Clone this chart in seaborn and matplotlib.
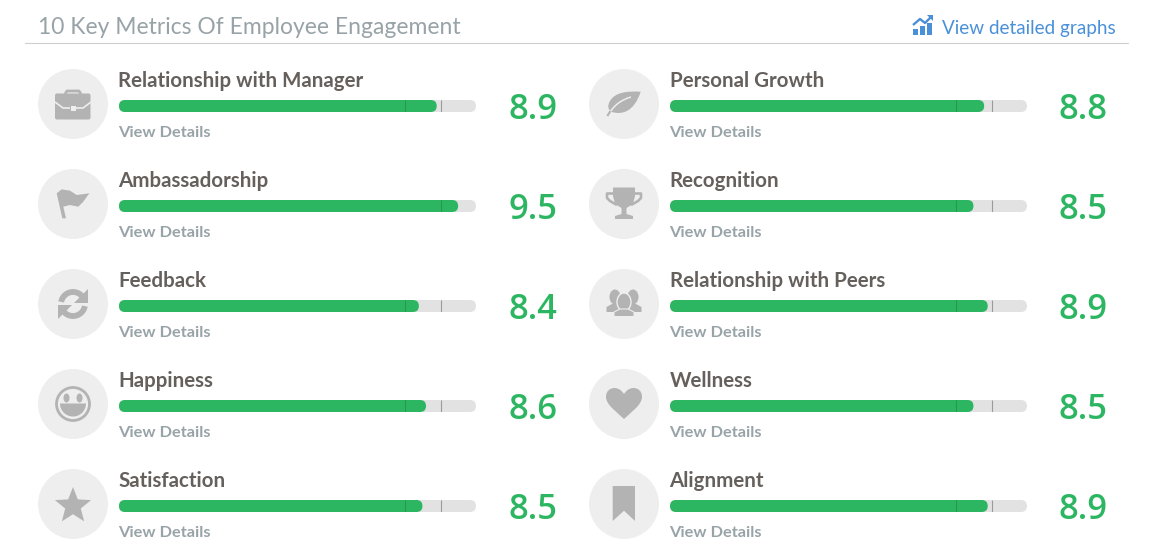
import numpy as np
import matplotlib
matplotlib.use("Agg")
import matplotlib.pyplot as plt
import seaborn as sns
from matplotlib.path import Path
from matplotlib.patches import Circle, Ellipse, FancyBboxPatch, PathPatch, Polygon, Rectangle, Wedge

# data
LEFT_NAMES = ["Relationship with Manager", "Ambassadorship", "Feedback", "Happiness", "Satisfaction"]
LEFT_VALUES = [8.9, 9.5, 8.4, 8.6, 8.5]
RIGHT_NAMES = ["Personal Growth", "Recognition", "Relationship with Peers", "Wellness", "Alignment"]
RIGHT_VALUES = [8.8, 8.5, 8.9, 8.5, 8.9]
LEFT_LOW_MARKS = [8.02, np.nan, 8.02, 8.02, 8.02]
RIGHT_LOW_MARKS = [8.02, 8.02, 8.02, 8.02, 8.02]
HIGH_MARK = 9.02
SCALE_MAX = 10
LEFT_ICONS = ["briefcase", "flag", "refresh", "smiley", "star"]
RIGHT_ICONS = ["leaf", "trophy", "people", "heart", "bookmark"]
TITLE = "10 Key Metrics Of Employee Engagement"
LINK = "View detailed graphs"
DETAILS = "View Details"

W, H = 1153, 559
GREEN = "#2DB662"
MARK_ON_GREEN = "#27964F"
MARK_ON_TRACK = "#9A9A9A"
TRACK = "#E2E2E2"
CIRCLE = "#EEEEEE"
ICON = "#B3B3B3"
NAME_COLOR = "#66605C"
MUTED = "#98A3A8"
BLUE = "#4A90D9"
FONT = "Lato"
NUM_FONT = "Open Sans"


def add_shape(ax, cx, cy, verts, codes=None, **kw):
    verts = np.asarray(verts, dtype=float) + [cx, cy]
    kw.setdefault("facecolor", ICON)
    kw.setdefault("edgecolor", "none")
    ax.add_patch(PathPatch(Path(verts, codes), **kw))


def stroke(ax, cx, cy, pts, color=ICON, lw=2.0, **kw):
    pts = np.asarray(pts, dtype=float)
    ax.plot(pts[:, 0] + cx, pts[:, 1] + cy, color=color, lw=lw, solid_capstyle="butt", **kw)


def draw_icon(ax, kind, cx, cy):
    C, M, Z = Path.CURVE4, Path.MOVETO, Path.CLOSEPOLY
    if kind == "briefcase":
        stroke(ax, cx, cy, [(-8, -10), (-6, -13), (6, -13), (8, -10)], lw=2.0)
        ax.add_patch(FancyBboxPatch((cx - 18, cy - 10.5), 35.5, 26, boxstyle="round,pad=0,rounding_size=2",
                                    fc=ICON, ec="none"))
        stroke(ax, cx, cy, [(-18, -2), (-10, 4), (-3, 4)], color=CIRCLE, lw=1.2)
        stroke(ax, cx, cy, [(3, 4), (10, 4), (18, -2)], color=CIRCLE, lw=1.2)
        ax.add_patch(Rectangle((cx - 2.5, cy + 1.5), 5, 5, fc=CIRCLE, ec="none"))
    elif kind == "flag":
        add_shape(ax, cx, cy, [(-16.3, -10.7), (-11.3, -14.7), (-3, -13.3), (3.7, -9), (16.3, -10.7), (10.3, -2.3),
                               (5.3, 2.7), (-3, 1), (-9.7, 2.7), (-7, 14.3), (-10.7, 14.3)])
    elif kind == "refresh":
        for sign in (1, -1):
            t = np.radians(np.linspace(190, 325, 30))
            pts = np.c_[12 * np.cos(t), 12 * np.sin(t)] * sign
            stroke(ax, cx, cy, pts, lw=4.2)
            add_shape(ax, cx, cy, np.array([(15.3, -15), (15.3, -1), (1, -1)]) * sign)
    elif kind == "smiley":
        ax.add_patch(Circle((cx, cy), 16.5, fc="none", ec=ICON, lw=2.0))
        ax.add_patch(Ellipse((cx - 6.5, cy - 6), 6, 9, fc=ICON, ec="none"))
        ax.add_patch(Ellipse((cx + 6.5, cy - 6), 6, 9, fc=ICON, ec="none"))
        ax.add_patch(Wedge((cx, cy - 0.5), 13, 0, 180, fc=ICON, ec="none"))
    elif kind == "star":
        star = Path.unit_regular_star(5, innerCircle=0.43)
        add_shape(ax, cx, cy + 2, star.vertices * [19, -19], star.codes)
    elif kind == "leaf":
        add_shape(ax, cx, cy,
                  [(16.7, -12.3), (4, -13), (-9, -12), (-14, -3), (-17, 2), (-16, 6), (-12, 8),
                   (-2, 11), (10, 8), (16.7, -12.3), (16.7, -12.3)],
                  [M, C, C, C, C, C, C, C, C, C, Z])
        verts = np.array([(-16.7, 12), (-10, 1), (-3, -4), (7, -7)], dtype=float) + [cx, cy]
        ax.add_patch(PathPatch(Path(verts, [M, C, C, C]), fc="none", ec=CIRCLE, lw=1.1))
        stroke(ax, cx, cy, [(-16.7, 12), (-13.5, 7)], lw=1.5)
    elif kind == "trophy":
        stroke(ax, cx, cy, [(-11, -10.5), (-17, -10.5), (-17, -6), (-14, -3), (-7, 1)], lw=1.9)
        stroke(ax, cx, cy, [(11, -10.5), (17, -10.5), (17, -6), (14, -3), (7, 1)], lw=1.9)
        add_shape(ax, cx, cy,
                  [(-11, -16.5), (11, -16.5), (11, -8), (9, 0), (2.5, 4), (2.5, 10), (9, 12), (9, 15), (-9, 15),
                   (-9, 12), (-2.5, 10), (-2.5, 4), (-9, 0), (-11, -8)])
    elif kind == "people":
        for sx in (-9, 9):
            ax.add_patch(Ellipse((cx + sx, cy - 7), 11, 15, fc=ICON, ec="none"))
            add_shape(ax, cx + sx, cy, [(-8.5, 8), (-8.5, 3), (-3, 0), (3, 0), (8.5, 3), (8.5, 8)])
        ax.add_patch(Ellipse((cx, cy - 2), 14, 18, fc=ICON, ec=CIRCLE, lw=1.0))
        add_shape(ax, cx, cy, [(-10, 12), (-10, 8), (-4, 5), (4, 5), (10, 8), (10, 12)],
                  edgecolor=CIRCLE, lw=0.8)
    elif kind == "heart":
        add_shape(ax, cx, cy,
                  [(0, 15), (-6, 9), (-18, 1), (-18, -7), (-18, -13), (-14, -16), (-9.5, -16), (-5, -16), (-2, -13),
                   (0, -10), (2, -13), (5, -16), (9.5, -16), (14, -16), (18, -13), (18, -7), (18, 1), (6, 9), (0, 15),
                   (0, 15)],
                  [M, C, C, C, C, C, C, C, C, C, C, C, C, C, C, C, C, C, C, Z])
    elif kind == "bookmark":
        add_shape(ax, cx, cy, [(-11.3, -18), (11, -18), (11, 17), (0, 6.7), (-11.3, 17)])


def draw_chart_icon(ax):
    for x0, top in [(913, 29), (920, 26), (927, 22.5)]:
        ax.add_patch(Rectangle((x0, top), 5, 35 - top, fc=BLUE, ec="none"))
    stroke(ax, 0, 0, [(913, 25), (920, 19), (925, 23), (931, 17)], color=BLUE, lw=1.7)
    ax.add_patch(Polygon([(927, 15), (933, 15), (933, 21)], fc=BLUE, ec="none"))


def draw_bar(fig, name, value, low_mark, x_px, y_px):
    ax = fig.add_axes([x_px / W, 1 - (y_px + 12) / H, 357 / W, 12 / H])
    sns.barplot(x=[SCALE_MAX], y=[name], orient="h", width=1, color=TRACK, saturation=1, ax=ax)
    sns.barplot(x=[value], y=[name], orient="h", width=1, color=GREEN, saturation=1, ax=ax)
    ax.set_xlim(0, SCALE_MAX)
    ax.set_ylim(0.5, -0.5)
    ax.axis("off")

    # swap the square bars for rounded ones of the same extent
    r = 6 / (357 / SCALE_MAX)
    for bar in list(ax.patches):
        rounded = FancyBboxPatch((bar.get_x(), bar.get_y()), bar.get_width(), bar.get_height(),
                                 boxstyle=f"round,pad=0,rounding_size={r}", mutation_aspect=(357 / SCALE_MAX) / 12,
                                 fc=bar.get_facecolor(), ec="none", zorder=bar.get_zorder())
        bar.remove()
        ax.add_patch(rounded)

    for mark in (low_mark, HIGH_MARK):
        if np.isnan(mark):
            continue
        color = MARK_ON_GREEN if mark < value else MARK_ON_TRACK
        ax.vlines(mark, -0.5, 0.5, color=color, lw=0.8, zorder=5)


def main():
    sns.set_theme(style="white")
    plt.rcParams["font.family"] = [FONT, "DejaVu Sans"]

    fig = plt.figure(figsize=(W / 100, H / 100), dpi=100, facecolor="white")
    canvas = fig.add_axes([0, 0, 1, 1])
    canvas.set_xlim(0, W)
    canvas.set_ylim(H, 0)
    canvas.axis("off")

    canvas.text(38, 34, TITLE, fontsize=16.5, color=MUTED, va="baseline")
    canvas.text(942, 34, LINK, fontsize=13.6, color=BLUE, va="baseline")
    canvas.plot([25, 1128], [43, 43], color="#CFCFCF", lw=0.8)
    draw_chart_icon(canvas)

    columns = [(38, LEFT_NAMES, LEFT_VALUES, LEFT_LOW_MARKS, LEFT_ICONS),
               (589, RIGHT_NAMES, RIGHT_VALUES, RIGHT_LOW_MARKS, RIGHT_ICONS)]
    for x0, names, values, low_marks, icons in columns:
        for i, (name, value, low, icon) in enumerate(zip(names, values, low_marks, icons)):
            top = 100 * i
            cx, cy = x0 + 35, top + 104
            canvas.add_patch(Circle((cx, cy), 35, fc=CIRCLE, ec="none"))
            draw_icon(canvas, icon, cx, cy)
            canvas.text(x0 + 80.5, top + 87, name, fontsize=14.8, fontweight="bold", color=NAME_COLOR, va="baseline")
            canvas.text(x0 + 80.5, top + 137, DETAILS, fontsize=11.8, fontweight="bold", color=MUTED, va="baseline")
            canvas.text(x0 + 494.5, top + 119, f"{value:.1f}", fontsize=24.8, fontweight="semibold", color=GREEN,
                        ha="center", va="baseline", family=[NUM_FONT, "DejaVu Sans"])
            draw_bar(fig, name, value, low, x0 + 81, top + 100)

    fig.savefig("out.png", dpi=100, facecolor="white")


if __name__ == "__main__":
    main()
